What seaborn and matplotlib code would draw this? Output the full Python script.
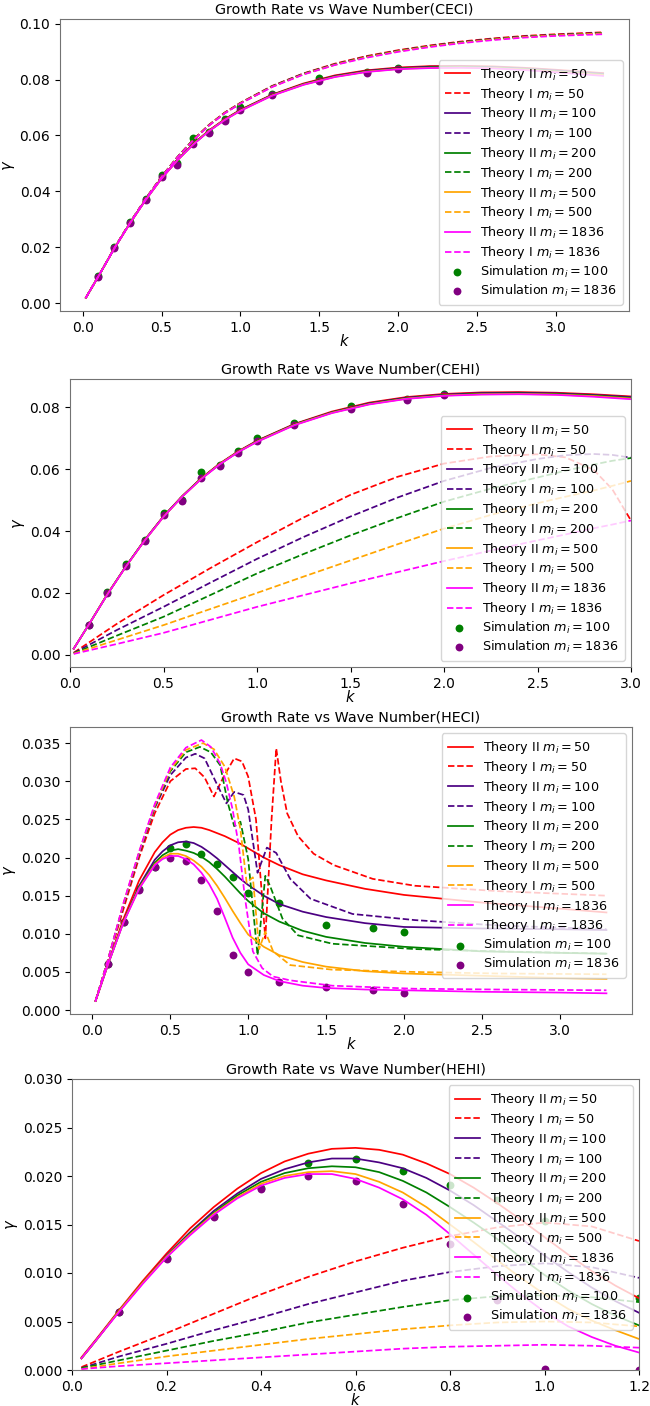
import seaborn as sns
import matplotlib
matplotlib.use('Agg')
import matplotlib.pyplot as plt

# simulation points (same k for every case)
sim_k = [0.1, 0.2, 0.3, 0.4, 0.5, 0.6, 0.7, 0.8, 0.9, 1.0, 1.2, 1.5, 1.8, 2.0]
ce_sim_100 = [0.0097, 0.0203, 0.0292, 0.0372, 0.0458, 0.0500, 0.0592, 0.0613, 0.0658, 0.0702, 0.0748, 0.0805, 0.0828, 0.0843]
ce_sim_1836 = [0.0095, 0.0199, 0.0286, 0.0369, 0.0452, 0.0496, 0.0570, 0.0610, 0.0652, 0.0692, 0.0744, 0.0795, 0.0823, 0.0838]
heci_sim_100 = [0.0060, 0.0115, 0.0159, 0.0188, 0.0213, 0.0218, 0.0205, 0.0191, 0.0175, 0.0154, 0.0140, 0.0112, 0.0108, 0.0103]
heci_sim_1836 = [0.0060, 0.0115, 0.0158, 0.0187, 0.0200, 0.0195, 0.0171, 0.0130, 0.0072, 0.0050, 0.0037, 0.0030, 0.0026, 0.0022]
hehi_sim_100 = [0.0060, 0.0115, 0.0159, 0.0188, 0.0213, 0.0218, 0.0205, 0.0191, 0.0175, 0.0154, 0.0074, 0.0112, 0.0108, 0.0103]
hehi_sim_1836 = [0.0060, 0.0114, 0.0158, 0.0187, 0.0200, 0.0195, 0.0171, 0.0130, 0.0072, 0.0001, 0.0000, 0.0030, 0.0026, 0.0022]

masses = [50, 100, 200, 500, 1836]
colors = ['red', 'indigo', 'green', 'orange', 'magenta']

# ---- CECI ----
ceci_k = [0.02, 0.1, 0.2, 0.3, 0.4, 0.5, 0.6, 0.7, 0.8, 0.9, 1.0, 1.2, 1.4, 1.6, 1.8, 2.0, 2.2, 2.4, 2.6, 2.8, 3.0, 3.3]
ceci_t2_50 = [0.0020, 0.0097, 0.0196, 0.0287, 0.0372, 0.0448, 0.0513, 0.0570, 0.0618, 0.0658, 0.0692, 0.0746, 0.0786, 0.0815, 0.0833, 0.0843, 0.0848, 0.0849, 0.0847, 0.0842, 0.0835, 0.0823]
ceci_t2_100 = [0.0020, 0.0097, 0.0196, 0.0287, 0.0371, 0.0447, 0.0512, 0.0569, 0.0617, 0.0657, 0.0691, 0.0745, 0.0784, 0.0813, 0.0831, 0.0841, 0.0846, 0.0847, 0.0845, 0.0840, 0.0833, 0.0821]
ceci_t2_200 = [0.0020, 0.0097, 0.0196, 0.0287, 0.0371, 0.0447, 0.0512, 0.0569, 0.0616, 0.0656, 0.0690, 0.0744, 0.0783, 0.0811, 0.0829, 0.0839, 0.0844, 0.0845, 0.0843, 0.0838, 0.0830, 0.0818]
ceci_t2_500 = [0.0020, 0.0097, 0.0196, 0.0286, 0.0370, 0.0446, 0.0511, 0.0568, 0.0616, 0.0656, 0.0689, 0.0743, 0.0782, 0.0810, 0.0828, 0.0838, 0.0842, 0.0843, 0.0841, 0.0836, 0.0828, 0.0816]
ceci_t2_1836 = [0.0020, 0.0097, 0.0195, 0.0286, 0.0370, 0.0446, 0.0511, 0.0567, 0.0615, 0.0655, 0.0688, 0.0742, 0.0781, 0.0809, 0.0827, 0.0837, 0.0841, 0.0842, 0.0840, 0.0834, 0.0826, 0.0813]
ceci_t1_50 = [0.0020, 0.0097, 0.0197, 0.0289, 0.0375, 0.0453, 0.0523, 0.0585, 0.0638, 0.0682, 0.0717, 0.0777, 0.0822, 0.0857, 0.0884, 0.0905, 0.0922, 0.0936, 0.0947, 0.0956, 0.0962, 0.0969]
ceci_t1_100 = [0.0020, 0.0097, 0.0197, 0.0289, 0.0375, 0.0453, 0.0522, 0.0584, 0.0637, 0.0681, 0.0716, 0.0776, 0.0821, 0.0855, 0.0882, 0.0903, 0.0920, 0.0934, 0.0945, 0.0954, 0.0960, 0.0967]
ceci_t1_200 = [0.0020, 0.0097, 0.0197, 0.0289, 0.0374, 0.0452, 0.0522, 0.0584, 0.0636, 0.0680, 0.0715, 0.0775, 0.0820, 0.0854, 0.0881, 0.0902, 0.0919, 0.0933, 0.0944, 0.0953, 0.0959, 0.0966]
ceci_t1_500 = [0.0020, 0.0097, 0.0197, 0.0289, 0.0374, 0.0452, 0.0521, 0.0583, 0.0636, 0.0680, 0.0715, 0.0774, 0.0819, 0.0853, 0.0880, 0.0901, 0.0918, 0.0932, 0.0943, 0.0952, 0.0958, 0.0965]
ceci_t1_1836 = [0.0020, 0.0097, 0.0197, 0.0288, 0.0374, 0.0451, 0.0521, 0.0582, 0.0635, 0.0679, 0.0714, 0.0773, 0.0818, 0.0852, 0.0878, 0.0899, 0.0916, 0.0930, 0.0941, 0.0950, 0.0956, 0.0962]

# ---- CEHI ---- (theory II same as CECI)
cehi_k = [0.02, 0.25, 0.5, 0.75, 1.0, 1.25, 1.5, 1.75, 2.0, 2.25, 2.5, 2.65, 2.8, 2.9, 3.0]
cehi_t1_50 = [0.0007, 0.0100, 0.0193, 0.0280, 0.0364, 0.0444, 0.0517, 0.0575, 0.0618, 0.0641, 0.0648, 0.0638, 0.0598, 0.0535, 0.0434]
cehi_t1_100 = [0.0006, 0.0080, 0.0155, 0.0233, 0.0310, 0.0381, 0.0447, 0.0508, 0.0562, 0.0604, 0.0633, 0.0645, 0.0649, 0.0646, 0.0637]
cehi_t1_200 = [0.0005, 0.0062, 0.0123, 0.0193, 0.0263, 0.0326, 0.0386, 0.0442, 0.0495, 0.0537, 0.0573, 0.0595, 0.0615, 0.0627, 0.0636]
cehi_t1_500 = [0.0004, 0.0048, 0.0096, 0.0148, 0.0200, 0.0253, 0.0305, 0.0357, 0.0408, 0.0452, 0.0490, 0.0511, 0.0531, 0.0546, 0.0562]
cehi_t1_1836 = [0.0003, 0.0035, 0.0071, 0.0113, 0.0155, 0.0193, 0.0231, 0.0267, 0.0303, 0.0337, 0.0370, 0.0389, 0.0409, 0.0421, 0.0434]

# ---- HECI ----
heci_k = [0.02, 0.1, 0.2, 0.3, 0.4, 0.45, 0.5, 0.55, 0.6, 0.65, 0.7, 0.75, 0.8, 0.85, 0.9, 0.95, 1.0, 1.1, 1.2, 1.35, 1.5, 1.75, 2.0, 2.5, 3.0, 3.3]
heci_t2_50 = [0.0012, 0.0061, 0.0120, 0.0170, 0.0207, 0.0220, 0.0230, 0.0236, 0.0239, 0.0240, 0.0239, 0.0236, 0.0232, 0.0228, 0.0223, 0.0218, 0.0212, 0.0200, 0.0190, 0.0178, 0.0170, 0.0159, 0.0151, 0.0141, 0.0133, 0.0128]
heci_t2_100 = [0.0012, 0.0060, 0.0117, 0.0163, 0.0197, 0.0208, 0.0216, 0.0220, 0.0221, 0.0219, 0.0214, 0.0207, 0.0199, 0.0190, 0.0181, 0.0172, 0.0164, 0.0150, 0.0139, 0.0129, 0.0122, 0.0114, 0.0109, 0.0107, 0.0106, 0.0105]
heci_t2_200 = [0.0012, 0.0060, 0.0116, 0.0161, 0.0193, 0.0203, 0.0209, 0.0211, 0.0209, 0.0206, 0.0201, 0.0194, 0.0185, 0.0175, 0.0164, 0.0153, 0.0143, 0.0127, 0.0116, 0.0104, 0.0096, 0.0088, 0.0083, 0.0077, 0.0075, 0.0074]
heci_t2_500 = [0.0012, 0.0060, 0.0116, 0.0160, 0.0191, 0.0200, 0.0205, 0.0205, 0.0202, 0.0196, 0.0188, 0.0177, 0.0163, 0.0147, 0.0130, 0.0114, 0.0099, 0.0083, 0.0072, 0.0063, 0.0057, 0.0051, 0.0048, 0.0045, 0.0042, 0.0041]
heci_t2_1836 = [0.0012, 0.0060, 0.0115, 0.0159, 0.0190, 0.0198, 0.0202, 0.0202, 0.0198, 0.0191, 0.0180, 0.0165, 0.0146, 0.0121, 0.0095, 0.0075, 0.0060, 0.0046, 0.0038, 0.0032, 0.0029, 0.0027, 0.0026, 0.0024, 0.0023, 0.0022]
# theory I has wiggles, so each curve keeps its own k points
heci_t1_50_k = [0.02, 0.1, 0.2, 0.3, 0.4, 0.5, 0.6, 0.66, 0.72, 0.78, 0.84, 0.91, 0.96, 1.0, 1.05, 1.11, 1.15, 1.18, 1.21, 1.25, 1.32, 1.42, 1.55, 1.8, 2.07, 2.6, 3.3]
heci_t1_50 = [0.0012, 0.0065, 0.0133, 0.0200, 0.0258, 0.0300, 0.0316, 0.0317, 0.0305, 0.0280, 0.0305, 0.0330, 0.0326, 0.0306, 0.0250, 0.0094, 0.0250, 0.0343, 0.0300, 0.0258, 0.0228, 0.0205, 0.0190, 0.0172, 0.0163, 0.0156, 0.0150]
heci_t1_100_k = [0.02, 0.1, 0.2, 0.3, 0.4, 0.5, 0.6, 0.66, 0.72, 0.79, 0.86, 0.91, 0.97, 1.0, 1.06, 1.12, 1.18, 1.27, 1.4, 1.67, 2.07, 2.6, 3.3]
heci_t1_100 = [0.0012, 0.0066, 0.0138, 0.0204, 0.0265, 0.0308, 0.0331, 0.0336, 0.0330, 0.0300, 0.0271, 0.0286, 0.0282, 0.0263, 0.0180, 0.0213, 0.0206, 0.0172, 0.0146, 0.0126, 0.0118, 0.0111, 0.0106]
heci_t1_200_k = [0.02, 0.1, 0.2, 0.3, 0.4, 0.5, 0.6, 0.69, 0.76, 0.82, 0.87, 0.91, 0.95, 1.0, 1.06, 1.11, 1.14, 1.22, 1.32, 1.54, 2.07, 2.6, 3.3]
heci_t1_200 = [0.0012, 0.0066, 0.0139, 0.0206, 0.0267, 0.0313, 0.0338, 0.0345, 0.0338, 0.0321, 0.0271, 0.0241, 0.0247, 0.0198, 0.0072, 0.0176, 0.0163, 0.0120, 0.0098, 0.0087, 0.0080, 0.0077, 0.0074]
heci_t1_500_k = [0.02, 0.1, 0.2, 0.3, 0.4, 0.5, 0.6, 0.71, 0.78, 0.85, 0.91, 0.95, 0.99, 1.03, 1.07, 1.11, 1.16, 1.27, 1.54, 2.07, 2.6, 3.3]
heci_t1_500 = [0.0012, 0.0066, 0.0140, 0.0207, 0.0268, 0.0315, 0.0341, 0.0350, 0.0342, 0.0319, 0.0280, 0.0237, 0.0167, 0.0174, 0.0080, 0.0103, 0.0077, 0.0059, 0.0053, 0.0050, 0.0048, 0.0047]
heci_t1_1836_k = [0.02, 0.1, 0.2, 0.3, 0.4, 0.5, 0.6, 0.70, 0.76, 0.82, 0.86, 0.90, 0.94, 0.98, 1.03, 1.09, 1.16, 1.27, 1.54, 2.07, 2.6, 3.3]
heci_t1_1836 = [0.0012, 0.0066, 0.0141, 0.0208, 0.0270, 0.0318, 0.0344, 0.0354, 0.0345, 0.0323, 0.0298, 0.0263, 0.0215, 0.0146, 0.0077, 0.0055, 0.0044, 0.0039, 0.0032, 0.0028, 0.0027, 0.0026]

# ---- HEHI ----
hehi_k2 = [0.02, 0.05, 0.1, 0.15, 0.2, 0.25, 0.3, 0.35, 0.4, 0.45, 0.5, 0.55, 0.6, 0.65, 0.7, 0.75, 0.8, 0.85, 0.9, 0.95, 1.0, 1.05, 1.1, 1.15, 1.2]
hehi_t2_50 = [0.0013, 0.0031, 0.0062, 0.0092, 0.0120, 0.0146, 0.0168, 0.0187, 0.0203, 0.0215, 0.0223, 0.0228, 0.0229, 0.0227, 0.0222, 0.0213, 0.0202, 0.0188, 0.0172, 0.0155, 0.0137, 0.0119, 0.0102, 0.0087, 0.0074]
hehi_t2_100 = [0.0012, 0.0030, 0.0061, 0.0090, 0.0118, 0.0142, 0.0164, 0.0182, 0.0197, 0.0207, 0.0214, 0.0218, 0.0218, 0.0214, 0.0208, 0.0198, 0.0185, 0.0170, 0.0153, 0.0136, 0.0118, 0.0101, 0.0085, 0.0071, 0.0059]
hehi_t2_200 = [0.0012, 0.0030, 0.0061, 0.0090, 0.0117, 0.0141, 0.0162, 0.0180, 0.0194, 0.0203, 0.0208, 0.0210, 0.0209, 0.0204, 0.0195, 0.0183, 0.0168, 0.0152, 0.0135, 0.0116, 0.0098, 0.0082, 0.0068, 0.0056, 0.0046]
hehi_t2_500 = [0.0012, 0.0030, 0.0061, 0.0090, 0.0117, 0.0140, 0.0161, 0.0178, 0.0192, 0.0200, 0.0204, 0.0205, 0.0202, 0.0194, 0.0183, 0.0168, 0.0150, 0.0132, 0.0113, 0.0095, 0.0078, 0.0063, 0.0051, 0.0041, 0.0032]
hehi_t2_1836 = [0.0012, 0.0030, 0.0060, 0.0089, 0.0116, 0.0139, 0.0160, 0.0177, 0.0190, 0.0198, 0.0202, 0.0202, 0.0197, 0.0188, 0.0176, 0.0160, 0.0140, 0.0119, 0.0098, 0.0078, 0.0060, 0.0045, 0.0034, 0.0025, 0.0018]
hehi_k1 = [0.02, 0.1, 0.2, 0.3, 0.4, 0.5, 0.6, 0.7, 0.8, 0.9, 1.0, 1.1, 1.2]
hehi_t1_50 = [0.0003, 0.0019, 0.0038, 0.0058, 0.0078, 0.0096, 0.0112, 0.0126, 0.0138, 0.0147, 0.0152, 0.0148, 0.0133]
hehi_t1_100 = [0.0002, 0.0014, 0.0027, 0.0041, 0.0054, 0.0068, 0.0080, 0.0092, 0.0101, 0.0107, 0.0110, 0.0106, 0.0095]
hehi_t1_200 = [0.0002, 0.0010, 0.0020, 0.0030, 0.0039, 0.0049, 0.0057, 0.0065, 0.0072, 0.0076, 0.0077, 0.0075, 0.0070]
hehi_t1_500 = [0.0001, 0.0007, 0.0014, 0.0020, 0.0026, 0.0032, 0.0037, 0.0042, 0.0046, 0.0049, 0.0050, 0.0049, 0.0045]
hehi_t1_1836 = [0.0001, 0.0004, 0.0007, 0.0010, 0.0013, 0.0016, 0.0019, 0.0022, 0.0024, 0.0025, 0.0026, 0.0025, 0.0023]

plt.rcParams['font.family'] = ['DejaVu Sans']
plt.rcParams['xtick.labelsize'] = 10
plt.rcParams['ytick.labelsize'] = 10

W, H = 650, 1406
fig = plt.figure(figsize=(W / 100, H / 100), dpi=100)


def add_ax(left, right, top, bottom):
    # pixel box -> figure fraction
    return fig.add_axes([left / W, 1 - bottom / H, (right - left) / W, (bottom - top) / H])


def draw_panel(ax, name, t2_ks, t2_list, t1_ks, t1_list, s100, s1836, loc):
    for i in range(len(masses)):
        sns.lineplot(x=t2_ks[i], y=t2_list[i], ax=ax, color=colors[i], linewidth=1.25,
                     estimator=None, label=r'Theory II $m_i=%d$' % masses[i])
        sns.lineplot(x=t1_ks[i], y=t1_list[i], ax=ax, color=colors[i], linewidth=1.25,
                     linestyle='--', estimator=None, label=r'Theory I $m_i=%d$' % masses[i])
    sns.scatterplot(x=sim_k, y=s100, ax=ax, color='green', s=32, linewidth=0,
                    label=r'Simulation $m_i=100$')
    sns.scatterplot(x=sim_k, y=s1836, ax=ax, color='purple', s=32, linewidth=0,
                    label=r'Simulation $m_i=1836$')
    ax.set_title('Growth Rate vs Wave Number(%s)' % name, fontsize=10.3, pad=4)
    ax.set_xlabel('$k$', fontsize=10.5, labelpad=-1)
    ax.set_ylabel(r'$\gamma$', fontsize=10.5, labelpad=2)
    ax.legend(loc=loc, fontsize=9.2, labelspacing=0.22, borderpad=0.45)
    for sp in ax.spines.values():
        sp.set_color('0.45')


ax1 = add_ax(60, 629, 19, 311)
draw_panel(ax1, 'CECI', [ceci_k] * 5,
           [ceci_t2_50, ceci_t2_100, ceci_t2_200, ceci_t2_500, ceci_t2_1836],
           [ceci_k] * 5,
           [ceci_t1_50, ceci_t1_100, ceci_t1_200, ceci_t1_500, ceci_t1_1836],
           ce_sim_100, ce_sim_1836, 'lower right')

ax2 = add_ax(70, 631, 379, 667)
draw_panel(ax2, 'CEHI', [ceci_k] * 5,
           [ceci_t2_50, ceci_t2_100, ceci_t2_200, ceci_t2_500, ceci_t2_1836],
           [cehi_k] * 5,
           [cehi_t1_50, cehi_t1_100, cehi_t1_200, cehi_t1_500, cehi_t1_1836],
           ce_sim_100, ce_sim_1836, 'lower right')
ax2.set_xlim(0, 3.0)

ax3 = add_ax(70, 632, 727, 1014)
draw_panel(ax3, 'HECI', [heci_k] * 5,
           [heci_t2_50, heci_t2_100, heci_t2_200, heci_t2_500, heci_t2_1836],
           [heci_t1_50_k, heci_t1_100_k, heci_t1_200_k, heci_t1_500_k, heci_t1_1836_k],
           [heci_t1_50, heci_t1_100, heci_t1_200, heci_t1_500, heci_t1_1836],
           heci_sim_100, heci_sim_1836, 'upper right')

ax4 = add_ax(72, 639, 1079, 1370)
draw_panel(ax4, 'HEHI', [hehi_k2] * 5,
           [hehi_t2_50, hehi_t2_100, hehi_t2_200, hehi_t2_500, hehi_t2_1836],
           [hehi_k1] * 5,
           [hehi_t1_50, hehi_t1_100, hehi_t1_200, hehi_t1_500, hehi_t1_1836],
           hehi_sim_100, hehi_sim_1836, 'upper right')
ax4.set_xlim(0, 1.2)
ax4.set_ylim(0, 0.03)

fig.savefig('out.png', dpi=100)
